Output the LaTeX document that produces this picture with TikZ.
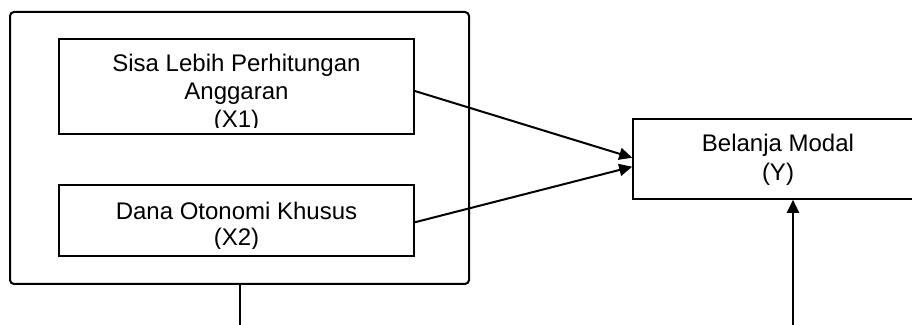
\documentclass[tikz,border=0pt]{standalone}
\usepackage{fontspec}
\setmainfont{Liberation Sans}
\usetikzlibrary{arrows.meta}

\tikzset{
  varbox/.style={draw, line width=0.8pt, inner sep=0pt},
  varlbl/.style={align=center, inner sep=0pt, font=\fontsize{12}{14}\selectfont},
  arr/.style={-{Triangle[length=6.5pt,width=6pt]}, line width=1pt},
}

\begin{document}
\begin{tikzpicture}[x=0.5pt, y=-0.5pt]
  \useasboundingbox (0,0) rectangle (912,325);

  % group of independent variables
  \node[draw, line width=1pt, rounded corners=2pt, inner sep=0pt,
        minimum width=229.5pt, minimum height=136pt] (grp) at (239.5,148) {};

  \node[varbox, minimum width=177.5pt, minimum height=47.5pt] (x1) at (236.5,86.5) {};
  \begin{scope}
    \clip (x1.north west) rectangle ([yshift=3.75pt]x1.south east);
    \node[varlbl] (x1txt) at (236.5,93.7) {Sisa Lebih Perhitungan\\Anggaran\\(X1)};
  \end{scope}

  \node[varbox, minimum width=177.5pt, minimum height=35.5pt] (x2) at (236.5,220.5) {};
  \begin{scope}
    \clip (x2.north west) rectangle ([yshift=4pt]x2.south east);
    \node[varlbl, font=\fontsize{12}{13}\selectfont] (x2txt) at (236.5,226) {Dana Otonomi Khusus\\(X2)};
  \end{scope}

  \node[varbox, minimum width=145pt, minimum height=40pt] (yb) at (778,159) {};
  \node[varlbl, font=\fontsize{12}{14.5}\selectfont] (ytxt) at (778,160.2) {Belanja Modal\\(Y)};

  \coordinate (grpout) at (239.5,335);
  \coordinate (yin) at (793,335);

  \draw[line width=1pt] (grp.south) -- (grpout);
  \draw[arr] ([yshift=-2.25pt]x1.east) -- ([yshift=0.65pt]yb.west);
  \draw[arr] ([yshift=-0.9pt]x2.east) -- ([yshift=-3.85pt]yb.west);
  \draw[arr] (yin) -- (yin |- yb.south);
\end{tikzpicture}
\end{document}
